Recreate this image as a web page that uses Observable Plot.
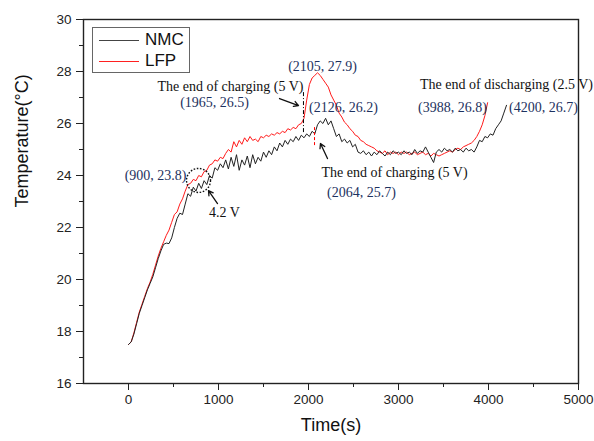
<!DOCTYPE html>
<html>
<head>
<meta charset="utf-8">
<script src="https://cdn.jsdelivr.net/npm/d3@7"></script>
<script src="https://cdn.jsdelivr.net/npm/@observablehq/plot@0.6"></script>
<style>
  html, body { margin: 0; padding: 0; background: #fff; }
  #wrap { position: relative; width: 594px; height: 441px; }
  #legend { position: absolute; left: 92px; top: 27px; width: 96px; height: 44px; border: 1px solid #666; background: #fff;
            font-family: "Liberation Sans", Arial, sans-serif; font-size: 17px; color: #111; }
  .row { position: absolute; left: 6px; height: 20px; display: flex; align-items: center; }
  .sw { width: 40px; height: 0; border-top: 1.3px solid; margin-right: 6px; }
</style>
</head>
<body>
<div id="wrap">
  <div id="chart"></div>
  <div id="legend">
    <div class="row" style="top:2px"><span class="sw" style="border-color:#444"></span>NMC</div>
    <div class="row" style="top:23px"><span class="sw" style="border-color:#ff2020"></span>LFP</div>
  </div>
</div>
<script>
// Sampling step (s) for both recorded series
const step = 30;

// NMC temperature (°C), t = 0, 30, 60, ... 4200 s
const nmcTemp = [
  17.5,17.6,17.9,18.3,18.7,19.0,19.3,19.6,19.85,20.1,
  20.45,20.8,21.1,21.35,21.4,21.38,21.6,22.0,22.35,22.55,
  22.5,22.9,23.3,23.2,23.55,23.4,23.7,23.5,23.8,23.65,
  24.0,23.9,24.3,24.2,24.45,24.3,24.6,24.25,24.7,24.35,
  24.8,24.2,24.6,24.4,24.75,24.3,24.8,24.45,24.7,24.55,
  24.9,24.7,24.95,24.8,25.1,24.95,25.25,25.1,25.35,25.2,
  25.4,25.3,25.5,25.35,25.55,25.45,25.6,25.5,25.7,25.6,
  25.95,26.1,26.0,26.2,25.95,26.1,25.8,25.5,25.6,25.3,
  25.4,25.25,25.35,25.1,25.2,24.9,24.85,24.95,24.8,24.9,
  24.75,24.9,24.8,24.95,24.85,24.75,24.9,24.8,24.95,24.85,
  24.9,24.8,24.95,24.85,24.9,24.8,25.0,24.85,24.95,24.9,
  25.1,24.9,24.7,24.5,24.9,25.0,24.9,25.05,24.95,25.0,
  24.9,25.05,24.95,25.0,24.9,25.05,24.95,25.0,24.9,25.1,
  25.35,25.3,25.5,25.45,25.6,25.55,25.8,25.95,26.1,26.4,
  26.7
];

// LFP temperature (°C), t = 0, 30, 60, ... 3990 s
const lfpTemp = [
  17.5,17.6,17.95,18.35,18.75,19.05,19.35,19.65,19.9,20.2,
  20.55,20.9,21.2,21.45,21.7,21.9,22.2,22.5,22.6,22.9,
  23.1,23.4,23.65,23.7,23.85,23.8,24.0,23.95,24.15,24.2,
  24.4,24.45,24.6,24.55,24.7,24.65,24.85,25.0,24.9,25.3,
  25.1,25.35,25.2,25.45,25.3,25.5,25.35,25.4,25.3,25.5,
  25.45,25.55,25.5,25.6,25.55,25.65,25.6,25.7,25.65,25.8,
  25.75,25.85,25.8,25.95,26.0,26.2,26.9,27.5,27.75,27.85,
  27.95,27.85,27.7,27.55,27.4,27.1,26.9,26.7,26.4,26.25,
  26.05,25.95,25.8,25.7,25.55,25.5,25.35,25.3,25.2,25.15,
  25.1,25.05,24.95,24.9,24.85,24.95,24.8,24.9,24.85,24.9,
  24.8,24.9,24.85,24.9,24.8,24.85,24.9,24.8,24.85,24.9,
  24.8,24.85,24.75,24.85,24.8,24.75,24.8,24.85,24.9,24.95,
  24.9,25.0,25.05,25.0,25.1,25.15,25.2,25.25,25.35,25.5,
  25.7,25.95,26.3,26.8
];

const xTicks = [0, 1000, 2000, 3000, 4000, 5000];
const xMinor = [500, 1500, 2500, 3500, 4500];
const yTicks = [16, 18, 20, 22, 24, 26, 28, 30];
const yMinor = [17, 19, 21, 23, 25, 27, 29];

// Annotation texts (data coordinates)
const noteText  = ["The end of charging (5 V)", "4.2 V", "The end of charging (5 V)", "The end of discharging (2.5 V)"];
const noteX     = [1133, 1067, 2956, 4200];
const noteY     = [27.42, 22.58, 24.12, 27.5];
const coordText = ["(1965, 26.5)", "(2105, 27.9)", "(2126, 26.2)", "(2064, 25.7)", "(3988, 26.8)", "(4200, 26.7)"];
const coordX    = [956, 2156, 2389, 2589, 3600, 4611];
const coordY    = [26.81, 28.19, 26.62, 23.35, 26.62, 26.62];
const coordLeftText = ["(900, 23.8)"];
const coordLeftX = [644];
const coordLeftY = [24.0];
// Arrows: tail -> head
const arrowX1 = [989, 1678, 2211];
const arrowY1 = [22.92, 26.96, 24.65];
const arrowX2 = [889, 1889, 2133];
const arrowY2 = [23.42, 26.69, 25.23];

const nmc = nmcTemp.map((v, i) => ({t: i * step, v}));
const lfp = lfpTemp.map((v, i) => ({t: i * step, v}));
const notes = noteText.map((s, i) => ({s, x: noteX[i], y: noteY[i]}));
const coords = coordText.map((s, i) => ({s, x: coordX[i], y: coordY[i]}));
const coordsLeft = coordLeftText.map((s, i) => ({s, x: coordLeftX[i], y: coordLeftY[i]}));
const arrows = arrowX1.map((x1, i) => ({x1, y1: arrowY1[i], x2: arrowX2[i], y2: arrowY2[i]}));

const serif = "'Liberation Serif', 'Times New Roman', serif";

const chart = Plot.plot({
  width: 594,
  height: 441,
  marginLeft: 83,
  marginRight: 16,
  marginTop: 19,
  marginBottom: 58,
  style: {fontFamily: "'Liberation Sans', Arial, sans-serif", fontSize: "14px", color: "#222", background: "#fff"},
  x: {domain: [-500, 5000]},
  y: {domain: [16, 30]},
  marks: [
    Plot.axisX({ticks: xTicks, tickSize: 7, tickPadding: 4, tickFormat: d3.format("d"), label: null, fontSize: 13.5}),
    Plot.axisX({ticks: xMinor, tickSize: 4, tickFormat: () => "", label: null}),
    Plot.axisY({ticks: yTicks, tickSize: 7, tickPadding: 5, tickFormat: d3.format("d"), label: null, fontSize: 13.5}),
    Plot.axisY({ticks: yMinor, tickSize: 4, tickFormat: () => "", label: null}),
    Plot.line(lfp, {x: "t", y: "v", stroke: "#ff1a1a", strokeWidth: 1}),
    Plot.line(nmc, {x: "t", y: "v", stroke: "#222", strokeWidth: 1}),
    Plot.frame({stroke: "#222", strokeWidth: 1.4}),
    Plot.ruleX([1944], {y1: 25.65, y2: 27.27, stroke: "#000", strokeDasharray: "4,2,1,2", strokeWidth: 1}),
    Plot.ruleX([2067], {y1: 25.15, y2: 25.92, stroke: "#ff0000", strokeDasharray: "3,2", strokeWidth: 1}),
    Plot.dot([{x: 778, y: 23.81}], {x: "x", y: "y", r: 12, fill: "none", stroke: "#111", strokeOpacity: 1, strokeDasharray: "1.6,1.6", strokeWidth: 1.4}),
    Plot.arrow(arrows, {x1: "x1", y1: "y1", x2: "x2", y2: "y2", stroke: "#111", strokeWidth: 1.3, headLength: 6}),
    Plot.text(notes, {x: "x", y: "y", text: "s", fontFamily: serif, fontSize: 14, fill: "#111"}),
    Plot.text(coords, {x: "x", y: "y", text: "s", fontFamily: serif, fontSize: 14, fill: "#1d3260"}),
    Plot.text(coordsLeft, {x: "x", y: "y", text: "s", textAnchor: "end", fontFamily: serif, fontSize: 14, fill: "#1d3260"}),
    Plot.text(["Time(s)"], {frameAnchor: "bottom", dy: 47, fontSize: 18, fill: "#111"}),
    Plot.text(["Temperature(°C)"], {frameAnchor: "left", dx: -61, dy: 6, rotate: -90, fontSize: 18, fill: "#111"})
  ]
});
document.getElementById("chart").appendChild(chart);
</script>
</body>
</html>
